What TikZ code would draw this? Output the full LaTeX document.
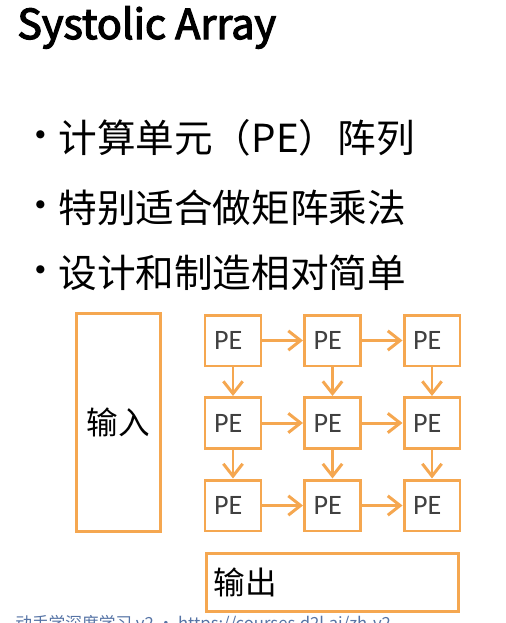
\documentclass[tikz,border=0pt]{standalone}
\usepackage{fontspec}
\setmainfont{Noto Sans CJK SC}
\newfontfamily\pefont{Carlito}
\newfontfamily\titlefont[FakeBold=3]{Noto Sans CJK SC}
\usetikzlibrary{arrows.meta}
\definecolor{boxOrange}{RGB}{245,167,80}
\definecolor{footBlue}{RGB}{85,115,165}
\colorlet{peText}{black!75}
\tikzset{>={Straight Barb[length=7pt,width=11pt]}}
\tikzset{
  pebox/.style={draw=boxOrange, line width=1.7pt, minimum width=1.12cm, minimum height=1.02cm,
    text width=0.76cm, inner xsep=0.18cm, align=left, text=peText, font=\pefont\fontsize{16}{18}\selectfont},
  flow/.style={->, draw=boxOrange, line width=1.7pt},
  bigbox/.style={draw=boxOrange, line width=1.7pt, font=\fontsize{18}{20}\selectfont},
  bullettext/.style={anchor=west, inner sep=0pt, font=\fontsize{22}{24}\selectfont},
  bulletdot/.style={inner sep=0pt, font=\fontsize{22}{24}\selectfont},
}
\begin{document}
\begin{tikzpicture}[x=0.02cm, y=-0.02cm]
\useasboundingbox (0,0) rectangle (506,623);
\node[anchor=base west, inner sep=0pt, font=\titlefont\fontsize{23.5}{28}\selectfont] (title) at (17,39) {Systolic Array};
% bullet list
\node[bulletdot] (dot1) at (41,140) {•};
\node[bullettext] (item1) at (58,138) {计算单元（PE）阵列};
\node[bulletdot] (dot2) at (41,210) {•};
\node[bullettext] (item2) at (58,208) {特别适合做矩阵乘法};
\node[bulletdot] (dot3) at (41,275) {•};
\node[bullettext] (item3) at (58,273) {设计和制造相对简单};
% input / output
\node[bigbox, minimum width=1.68cm, minimum height=4.36cm] (input) at (118.5,422.5) {输入};
\node[bigbox, minimum width=5.04cm, minimum height=1.16cm, text width=4.76cm, inner xsep=0.14cm, align=left] (output) at (332.5,582.5) {输出};
% PE array
\node[pebox] (pe11) at (233,340.5) {PE};
\node[pebox] (pe12) at (332.5,340.5) {PE};
\node[pebox] (pe13) at (432,340.5) {PE};
\node[pebox] (pe21) at (233,423) {PE};
\node[pebox] (pe22) at (332.5,423) {PE};
\node[pebox] (pe23) at (432,423) {PE};
\node[pebox] (pe31) at (233,505.5) {PE};
\node[pebox] (pe32) at (332.5,505.5) {PE};
\node[pebox] (pe33) at (432,505.5) {PE};
\draw[flow] (pe11) -- (pe12);
\draw[flow] (pe12) -- (pe13);
\draw[flow] (pe21) -- (pe22);
\draw[flow] (pe22) -- (pe23);
\draw[flow] (pe31) -- (pe32);
\draw[flow] (pe32) -- (pe33);
\draw[flow] (pe11) -- (pe21);
\draw[flow] (pe21) -- (pe31);
\draw[flow] (pe12) -- (pe22);
\draw[flow] (pe22) -- (pe32);
\draw[flow] (pe13) -- (pe23);
\draw[flow] (pe23) -- (pe33);
% footer
\node[anchor=base west, inner sep=0pt, text=footBlue, font=\fontsize{9.5}{10}\selectfont] (footer) at (15,629) {动手学深度学习 v2 • https://courses.d2l.ai/zh-v2};
\end{tikzpicture}
\end{document}
